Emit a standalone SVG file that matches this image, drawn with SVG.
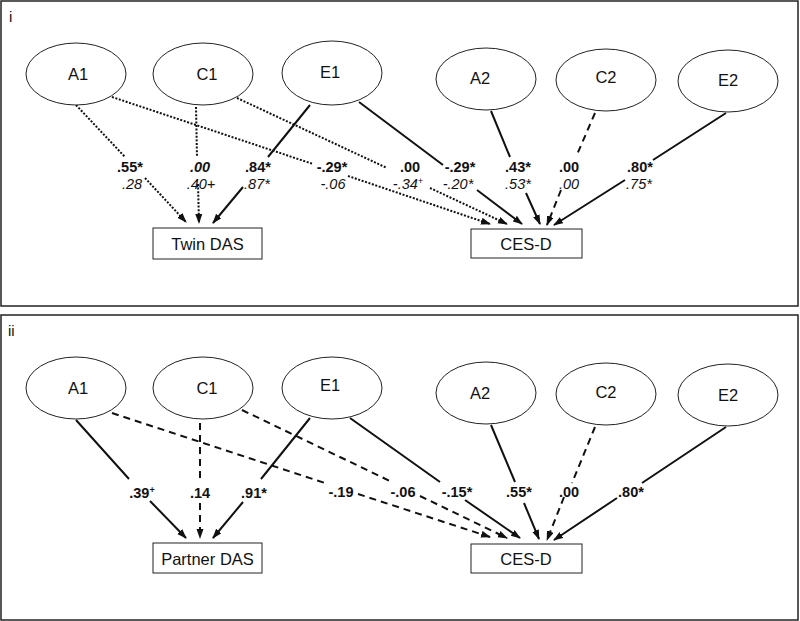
<svg xmlns="http://www.w3.org/2000/svg" width="800" height="621" viewBox="0 0 800 621">
<defs>
<marker id="ah" markerUnits="userSpaceOnUse" markerWidth="10" markerHeight="8" refX="9" refY="3.5" orient="auto">
<path d="M0,0 L10,3.5 L0,7 z" fill="#111"/>
</marker>
</defs>
<style>
text{font-family:"Liberation Sans",Arial,sans-serif;fill:#111}
.panel{fill:none;stroke:#222;stroke-width:1.5}
.node ellipse,.node rect{fill:#fff;stroke:#222;stroke-width:1}
.nl{font-size:16.5px;text-anchor:middle}
.e{fill:none;stroke:#111;stroke-width:2;marker-end:url(#ah)}
.dot{stroke-dasharray:2 1.6}
.dash{stroke-dasharray:7 5}
.b{font-size:14.5px;font-weight:bold;text-anchor:middle}
.it{font-size:14.5px;font-style:italic;text-anchor:middle}
.bi{font-size:14.5px;font-weight:bold;font-style:italic;text-anchor:middle}
.sup{font-size:9px}
.pl{font-size:15px}
</style>
<rect width="800" height="621" fill="#fff"/>
<rect class="panel" x="1" y="1" width="797" height="305"/>
<rect class="panel" x="1" y="315" width="797" height="305"/>
<text class="pl" x="9" y="22">i</text>
<text class="pl" x="8" y="336">ii</text>

<g id="connectors-i">
<path class="e dot" d="M76,105 L125,157 M145,178 L186,222"/>
<path class="e dot" d="M196,107 L197,157 M198,184 L199,223"/>
<path class="e" d="M310,105 L268,157 M243,187 L213,223"/>
<path class="e dot" d="M112,97 L313,164 M348,176 L490,224"/>
<path class="e dot" d="M237,98 L387,168 M430,188 L507,224"/>
<path class="e" d="M359,102 L443,165 M477,190 L522,224"/>
<path class="e" d="M491,111 L510,157 M526,193 L540,224"/>
<path class="e dash" d="M595,113 L576,157 M561,190 L547,225"/>
<path class="e" d="M726,113 L653,160 M625,180 L554,225"/>
<text class="b" x="130" y="172">.55*</text>
<text class="it" x="132" y="189">.28</text>
<text class="bi" x="200" y="172">.00</text>
<text class="it" x="201" y="189">.40+</text>
<text class="b" x="258" y="172">.84*</text>
<text class="it" x="257" y="189">.87*</text>
<text class="b" x="332" y="172">-.29*</text>
<text class="it" x="333" y="189">-.06</text>
<text class="b" x="410" y="172">.00</text>
<text class="it" x="408" y="189">-.34<tspan class="sup" dy="-5">+</tspan></text>
<text class="b" x="460" y="172">-.29*</text>
<text class="it" x="458" y="189">-.20*</text>
<text class="b" x="518" y="172">.43*</text>
<text class="it" x="518" y="189">.53*</text>
<text class="b" x="569" y="172">.00</text>
<text class="it" x="569" y="189">.00</text>
<text class="b" x="640" y="172">.80*</text>
<text class="it" x="639" y="189">.75*</text>
</g>

<g id="connectors-ii">
<path class="e" d="M76,420 L129,479 M150,501 L186,538"/>
<path class="e dash" d="M200,423 L200,478 M200,503 L200,538"/>
<path class="e" d="M310,418 L261,479 M243,502 L213,538"/>
<path class="e dash" d="M112,413 L325,483 M358,494 L490,537"/>
<path class="e dash" d="M242,410 L392,482 M420,496 L507,538"/>
<path class="e" d="M350,418 L440,482 M465,500 L520,538"/>
<path class="e" d="M491,425 L515,482 M524,503 L539,539"/>
<path class="e dash" d="M595,427 L572,483 M564,497 L547,540"/>
<path class="e" d="M726,427 L642,483 M617,498 L554,540"/>
<text class="b" x="142" y="498">.39<tspan class="sup" dy="-5">+</tspan></text>
<text class="b" x="200" y="498">.14</text>
<text class="b" x="254" y="498">.91*</text>
<text class="b" x="341" y="497">-.19</text>
<text class="b" x="403" y="497">-.06</text>
<text class="b" x="457" y="497">-.15*</text>
<text class="b" x="519" y="497">.55*</text>
<text class="b" x="569" y="497">.00</text>
<text class="b" x="631" y="497">.80*</text>
</g>

<g id="i-A1" class="node"><ellipse cx="76" cy="74" rx="50" ry="31"/><text class="nl" x="78" y="80">A1</text></g>
<g id="i-C1" class="node"><ellipse cx="203" cy="74" rx="50" ry="31"/><text class="nl" x="207" y="80">C1</text></g>
<g id="i-E1" class="node"><ellipse cx="332" cy="73" rx="50" ry="32"/><text class="nl" x="330" y="78">E1</text></g>
<g id="i-A2" class="node"><ellipse cx="486" cy="79" rx="50" ry="31"/><text class="nl" x="480" y="84">A2</text></g>
<g id="i-C2" class="node"><ellipse cx="606" cy="80" rx="50" ry="31"/><text class="nl" x="606" y="83">C2</text></g>
<g id="i-E2" class="node"><ellipse cx="728" cy="81" rx="50" ry="31"/><text class="nl" x="728" y="86">E2</text></g>
<g id="i-TwinDAS" class="node"><rect x="153" y="228" width="109" height="31"/><text class="nl" x="207.5" y="250">Twin DAS</text></g>
<g id="i-CESD" class="node"><rect x="471" y="229" width="111" height="29"/><text class="nl" x="526" y="250">CES-D</text></g>

<g id="ii-A1" class="node"><ellipse cx="76" cy="388" rx="50" ry="31"/><text class="nl" x="78" y="394">A1</text></g>
<g id="ii-C1" class="node"><ellipse cx="203" cy="388" rx="50" ry="31"/><text class="nl" x="207" y="394">C1</text></g>
<g id="ii-E1" class="node"><ellipse cx="332" cy="388" rx="50" ry="31"/><text class="nl" x="330" y="391">E1</text></g>
<g id="ii-A2" class="node"><ellipse cx="486" cy="393" rx="50" ry="31"/><text class="nl" x="480" y="399">A2</text></g>
<g id="ii-C2" class="node"><ellipse cx="606" cy="394" rx="50" ry="31"/><text class="nl" x="606" y="398">C2</text></g>
<g id="ii-E2" class="node"><ellipse cx="728" cy="395" rx="50" ry="31"/><text class="nl" x="728" y="401">E2</text></g>
<g id="ii-PartnerDAS" class="node"><rect x="153" y="543" width="109" height="30"/><text class="nl" x="207.5" y="565">Partner DAS</text></g>
<g id="ii-CESD" class="node"><rect x="471" y="544" width="111" height="29"/><text class="nl" x="526" y="565">CES-D</text></g>
</svg>
